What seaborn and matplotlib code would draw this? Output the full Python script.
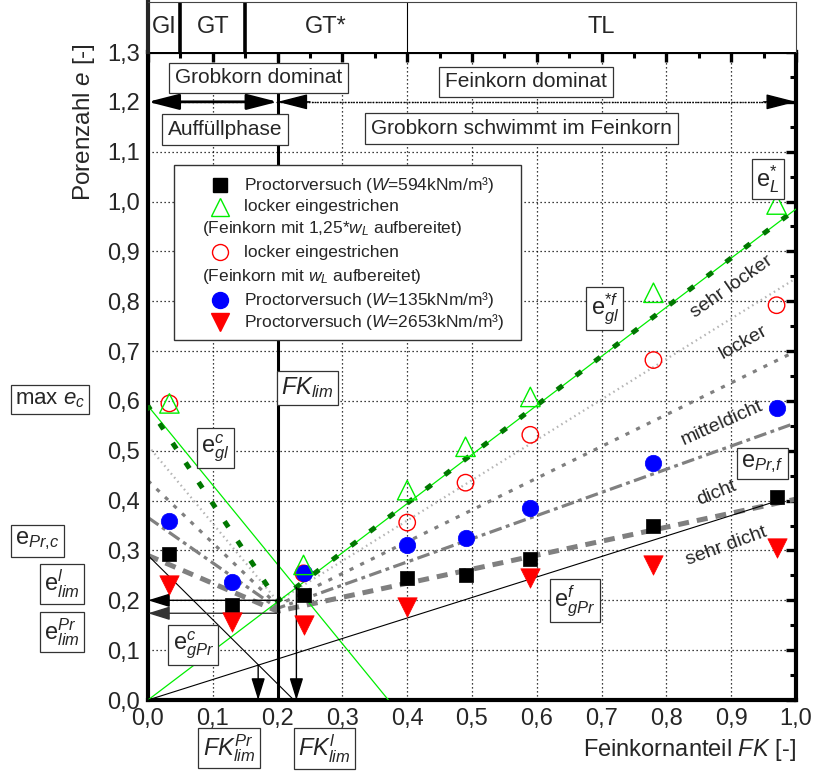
import numpy as np
import pandas as pd
import matplotlib
matplotlib.use("Agg")
import matplotlib.pyplot as plt
import seaborn as sns
from matplotlib.patches import Rectangle

# ---------------- data ----------------
fk_pr594 = [0.033, 0.13, 0.24, 0.40, 0.49, 0.59, 0.78, 0.97]
e_pr594 = [0.292, 0.190, 0.210, 0.244, 0.251, 0.283, 0.350, 0.407]

fk_lock125 = [0.033, 0.24, 0.40, 0.49, 0.59, 0.78, 0.97]
e_lock125 = [0.595, 0.271, 0.421, 0.508, 0.608, 0.817, 0.994]

fk_lockwl = [0.033, 0.24, 0.40, 0.49, 0.59, 0.78, 0.97]
e_lockwl = [0.595, 0.254, 0.356, 0.436, 0.532, 0.682, 0.792]

fk_pr135 = [0.033, 0.13, 0.24, 0.40, 0.49, 0.59, 0.78, 0.97]
e_pr135 = [0.360, 0.236, 0.254, 0.310, 0.326, 0.385, 0.476, 0.585]

fk_pr2653 = [0.033, 0.13, 0.24, 0.40, 0.59, 0.78, 0.97]
e_pr2653 = [0.231, 0.157, 0.150, 0.187, 0.244, 0.271, 0.304]

# reference lines
fk_glc = [0.0, 0.371]
e_glc = [0.59, 0.0]
fk_glf = [0.0, 1.0]
e_glf = [0.0, 0.985]
fk_gl_dash = [0.0, 0.2, 1.0]
e_gl_dash = [0.59, 0.198, 0.985]
fk_gprc = [0.0, 0.225]
e_gprc = [0.29, 0.0]
fk_gprf = [0.0, 0.975]
e_gprf = [0.0, 0.401]

# density-class boundaries (V shaped, vertex at FK_lim)
fk_cls = [0.0, 0.2, 1.0]
e_bound_sl_l = [0.51, 0.198, 0.846]   # sehr locker / locker
e_bound_l_md = [0.44, 0.190, 0.700]   # locker / mitteldicht
e_bound_md_d = [0.366, 0.184, 0.556]  # mitteldicht / dicht
e_bound_d_sd = [0.29, 0.178, 0.403]   # dicht / sehr dicht

fk_lim = 0.2
fk_lim_pr = 0.170
e_at_fk_lim_pr = 0.070
fk_lim_l = 0.229
e_at_fk_lim_l = 0.226
e_lim_l = 0.200
e_lim_pr = 0.174

strip_bounds = [0.0, 0.05, 0.15, 0.40, 1.0]
strip_labels = ["GI", "GT", "GT*", "TL"]

x_ticks = [0.0, 0.1, 0.2, 0.3, 0.4, 0.5, 0.6, 0.7, 0.8, 0.9, 1.0]
y_ticks = [0.0, 0.1, 0.2, 0.3, 0.4, 0.5, 0.6, 0.7, 0.8, 0.9, 1.0, 1.1, 1.2, 1.3]

# ---------------- style ----------------
sns.set_style("white")
plt.rcParams["font.family"] = ["Liberation Sans", "DejaVu Sans"]
plt.rcParams["mathtext.fontset"] = "custom"
plt.rcParams["mathtext.rm"] = "Liberation Sans"
plt.rcParams["mathtext.it"] = "Liberation Sans:italic"
plt.rcParams["mathtext.bf"] = "Liberation Sans:bold"
plt.rcParams["mathtext.sf"] = "Liberation Sans"

W, H = 816, 780
fig = plt.figure(figsize=(W / 100, H / 100), dpi=100)
L, R, T, B = 148, 796, 52, 700
ax = fig.add_axes([L / W, 1 - B / H, (R - L) / W, (B - T) / H])
ax_top = fig.add_axes([L / W, 1 - T / H, (R - L) / W, (T - 2) / H])

ax.set_xlim(0, 1)
ax.set_ylim(0, 1.3)

# grid
ax.set_axisbelow(True)
ax.grid(True, which="major", color="black", linestyle=(0, (1, 2.2)), linewidth=0.9)

# ---------------- lines ----------------
# density class boundaries
ax.plot(fk_cls, e_bound_sl_l, color="#b5b5b5", lw=1.6, ls=(0, (0.7, 1.6)), zorder=2)
ax.plot(fk_cls, e_bound_l_md, color="#808080", lw=2.3, ls=(0, (1.3, 2.4)), zorder=2)
ax.plot(fk_cls, e_bound_md_d, color="#808080", lw=2.3, ls=(0, (4.0, 1.4, 1.2, 1.4)), zorder=2)
ax.plot(fk_cls, e_bound_d_sd, color="#808080", lw=3.6, ls=(0, (2.2, 1.6)), zorder=2)

# thin theoretical lines
ax.plot(fk_glc, e_glc, color="#00ee00", lw=0.9, zorder=3)
ax.plot(fk_glf, e_glf, color="#00ee00", lw=0.9, zorder=3)
ax.plot(fk_gprc, e_gprc, color="black", lw=0.8, zorder=3)
ax.plot(fk_gprf, e_gprf, color="black", lw=0.8, zorder=3)
ax.plot(fk_gl_dash, e_gl_dash, color="#007700", lw=3.6, ls=(0.5, (1.4, 3.3)), zorder=3)

# FK_lim thick vertical
ax.plot([fk_lim, fk_lim], [0, 1.3], color="black", lw=2.2, zorder=4)

# arrows to axes
arw = dict(arrowstyle="-|>,head_length=0.9,head_width=0.28", mutation_scale=15,
           shrinkA=0, shrinkB=0, lw=1.0)
ax.annotate("", xy=(0, e_lim_l), xytext=(fk_lim, e_lim_l),
            arrowprops=dict(color="black", **arw), zorder=4)
ax.annotate("", xy=(0, e_lim_pr), xytext=(fk_lim, e_lim_pr),
            arrowprops=dict(color="#333333", **arw), zorder=4)
ax.annotate("", xy=(fk_lim_pr, 0), xytext=(fk_lim_pr, e_at_fk_lim_pr),
            arrowprops=dict(color="black", **arw), zorder=4)
ax.annotate("", xy=(fk_lim_l, 0), xytext=(fk_lim_l, e_at_fk_lim_l),
            arrowprops=dict(color="black", **arw), zorder=4)

# arrows at e = 1.2
arw2 = dict(arrowstyle="<|-|>,head_length=1.25,head_width=0.32", mutation_scale=15,
            shrinkA=0, shrinkB=0, lw=2.0, color="black")
ax.annotate("", xy=(0, 1.2), xytext=(fk_lim, 1.2), arrowprops=arw2, zorder=4)
ax.plot([fk_lim, 1.0], [1.2, 1.2], color="black", lw=1.0, ls=(0, (1, 1)), zorder=4)
arw3 = dict(arrowstyle="-|>,head_length=1.25,head_width=0.32", mutation_scale=15,
            shrinkA=0, shrinkB=0, lw=1.0, color="black")
ax.annotate("", xy=(fk_lim, 1.2), xytext=(fk_lim + 0.05, 1.2), arrowprops=arw3, zorder=4)
ax.annotate("", xy=(1.0, 1.2), xytext=(0.95, 1.2), arrowprops=arw3, zorder=4)

# ---------------- markers ----------------
sns.scatterplot(x=fk_lockwl, y=e_lockwl, ax=ax, marker="o", s=140, facecolor="none",
                edgecolor="red", linewidth=1.0, zorder=6, legend=False)
sns.scatterplot(x=fk_pr135, y=e_pr135, ax=ax, marker="o", s=140, color="blue",
                edgecolor="blue", linewidth=0.5, zorder=6, legend=False)
sns.scatterplot(x=fk_pr594, y=e_pr594, ax=ax, marker="s", s=105, color="black",
                edgecolor="black", linewidth=0.5, zorder=6, legend=False)
sns.scatterplot(x=fk_pr2653, y=e_pr2653, ax=ax, marker="v", s=195, color="red",
                edgecolor="red", linewidth=0.5, zorder=6, legend=False)
sns.scatterplot(x=fk_lock125, y=e_lock125, ax=ax, marker="^", s=195, facecolor="none",
                edgecolor="#00ee00", linewidth=1.0, zorder=7, legend=False)

# ---------------- axes formatting ----------------
ax.set_xticks(x_ticks)
ax.set_yticks(y_ticks)
ax.set_xticks(np.arange(0.05, 1.0, 0.1), minor=True)
ax.set_yticks(np.arange(0.05, 1.3, 0.1), minor=True)
ax.set_xticklabels([f"{v:.1f}".replace(".", ",") for v in x_ticks])
ax.set_yticklabels([f"{v:.1f}".replace(".", ",") for v in y_ticks])
ax.tick_params(which="major", direction="in", length=7.5, width=2.4, top=True, right=True,
               labelsize=17, pad=6, color="black")
ax.tick_params(which="minor", direction="in", length=4, width=2.2, top=True, right=True,
               color="black")
for s in ax.spines.values():
    s.set_linewidth(3.0)
    s.set_color("black")

ax.set_xlabel(r"Feinkornanteil $FK$ [-]", fontsize=17, ha="right", va="center")
ax.xaxis.set_label_coords(1.0, (B - 750) / (B - T))
ax.set_ylabel(r"Porenzahl $e$ [-]", fontsize=17.5, rotation=90, rotation_mode="anchor",
              ha="center", va="center")
ax.yaxis.set_label_coords((84 - L) / (R - L), (B - 122) / (B - T))

# ---------------- top strip ----------------
ax_top.set_xlim(0, 1)
ax_top.set_ylim(0, 1)
ax_top.set_xticks([])
ax_top.set_yticks([])
ax_top.spines["bottom"].set_visible(False)
ax_top.spines["left"].set_linewidth(3.0)
ax_top.spines["top"].set_linewidth(0.8)
ax_top.spines["top"].set_color("#444444")
ax_top.spines["right"].set_linewidth(0.8)
ax_top.spines["right"].set_color("#444444")
for b, lw in zip(strip_bounds[1:-1], [2.6, 2.6, 0.8]):
    ax_top.axvline(b, color="black", lw=lw)
for i, lab in enumerate(strip_labels):
    ax_top.text((strip_bounds[i] + strip_bounds[i + 1]) / 2, 0.5, lab, ha="center",
                va="center", fontsize=17)

# ---------------- text boxes ----------------
box = dict(boxstyle="square,pad=0.28", fc="white", ec="#333333", lw=0.9)
ax.text(0.170, 1.248, "Grobkorn dominat", fontsize=15, ha="center", va="center", bbox=box, zorder=8)
ax.text(0.119, 1.145, "Auffüllphase", fontsize=15, ha="center", va="center", bbox=box, zorder=8)
ax.text(0.583, 1.240, "Feinkorn dominat", fontsize=15, ha="center", va="center", bbox=box, zorder=8)
ax.text(0.576, 1.147, "Grobkorn schwimmt im Feinkorn", fontsize=15, ha="center", va="center",
        bbox=box, zorder=8)

mbox = dict(boxstyle="square,pad=0.18", fc="white", ec="#333333", lw=0.9)
ax.text(0.104, 0.505, r"$\mathrm{e}^{c}_{gl}$", fontsize=17, ha="center", va="center", bbox=mbox, zorder=8)
ax.text(0.070, 0.110, r"$\mathrm{e}^{c}_{gPr}$", fontsize=17, ha="center", va="center", bbox=mbox, zorder=8)
ax.text(0.246, 0.626, r"$FK_{lim}$", fontsize=17, ha="center", va="center", bbox=mbox, zorder=8)
ax.text(0.705, 0.786, r"$\mathrm{e}^{*f}_{gl}$", fontsize=17, ha="center", va="center", bbox=mbox, zorder=8)
ax.text(0.957, 1.045, r"$\mathrm{e}^{*}_{L}$", fontsize=17, ha="center", va="center", bbox=mbox, zorder=8)
ax.text(0.948, 0.475, r"$\mathrm{e}_{Pr{,}f}$", fontsize=17, ha="center", va="center", bbox=mbox, zorder=8)
ax.text(0.659, 0.200, r"$\mathrm{e}^{f}_{gPr}$", fontsize=17, ha="center", va="center", bbox=mbox, zorder=8)

# outside the axes
ax.text(-0.151, 0.602, r"max $e_c$", fontsize=16, ha="center", va="center", bbox=mbox, clip_on=False)
ax.text(-0.171, 0.319, r"$\mathrm{e}_{Pr{,}c}$", fontsize=17, ha="center", va="center", bbox=mbox, clip_on=False)
ax.text(-0.133, 0.233, r"$\mathrm{e}^{l}_{lim}$", fontsize=17, ha="center", va="center", bbox=mbox, clip_on=False)
ax.text(-0.133, 0.136, r"$\mathrm{e}^{Pr}_{lim}$", fontsize=17, ha="center", va="center", bbox=mbox, clip_on=False)
ax.text(0.125, -0.096, r"$FK^{Pr}_{lim}$", fontsize=17, ha="center", va="center", bbox=mbox, clip_on=False)
ax.text(0.272, -0.098, r"$FK^{l}_{lim}$", fontsize=17, ha="center", va="center", bbox=mbox, clip_on=False)

# class labels
ax.text(0.901, 0.829, "sehr locker", fontsize=14, rotation=35, rotation_mode="anchor",
        ha="center", va="center", zorder=8)
ax.text(0.918, 0.717, "locker", fontsize=14, rotation=29, rotation_mode="anchor",
        ha="center", va="center", zorder=8)
ax.text(0.886, 0.556, "mitteldicht", fontsize=14, rotation=24, rotation_mode="anchor",
        ha="center", va="center", zorder=8)
ax.text(0.877, 0.416, "dicht", fontsize=14, rotation=22, rotation_mode="anchor",
        ha="center", va="center", zorder=8)
ax.text(0.893, 0.309, "sehr dicht", fontsize=14, rotation=20, rotation_mode="anchor",
        ha="center", va="center", zorder=8)

# ---------------- legend (drawn as a framed block) ----------------
def ax_y(py):
    return (B - py) / (B - T)

def ax_x(px):
    return (px - L) / (R - L)

ax.add_patch(Rectangle((ax_x(174), ax_y(340)), ax_x(521) - ax_x(174), ax_y(165) - ax_y(340),
                       transform=ax.transAxes, fc="white", ec="#333333", lw=1.0, zorder=9))
leg_rows = [
    (185, "s", "black", "black", 10, r"Proctorversuch ($W$=594kNm/m³)"),
    (207, "^", "none", "#00ee00", 13, "locker eingestrichen"),
    (228, None, None, None, None, r"(Feinkorn mit 1,25*$w_L$ aufbereitet)"),
    (252, "o", "none", "red", 11.5, "locker eingestrichen"),
    (276, None, None, None, None, r"(Feinkorn mit $w_L$ aufbereitet)"),
    (300, "o", "blue", "blue", 11.5, r"Proctorversuch ($W$=135kNm/m³)"),
    (322, "v", "red", "red", 13, r"Proctorversuch ($W$=2653kNm/m³)"),
]
for py, mk, fc, ec, ms, lab in leg_rows:
    if mk is None:
        ax.text(ax_x(202), ax_y(py), lab, transform=ax.transAxes, fontsize=12.5,
                ha="left", va="center", zorder=10)
    else:
        ax.plot([ax_x(220)], [ax_y(py)], transform=ax.transAxes, marker=mk, ms=ms,
                mfc=fc, mec=ec, mew=1.0, ls="none", zorder=10, clip_on=False)
        ax.text(ax_x(244), ax_y(py), lab, transform=ax.transAxes, fontsize=12.5,
                ha="left", va="center", zorder=10)

fig.savefig("out.png", dpi=100)
